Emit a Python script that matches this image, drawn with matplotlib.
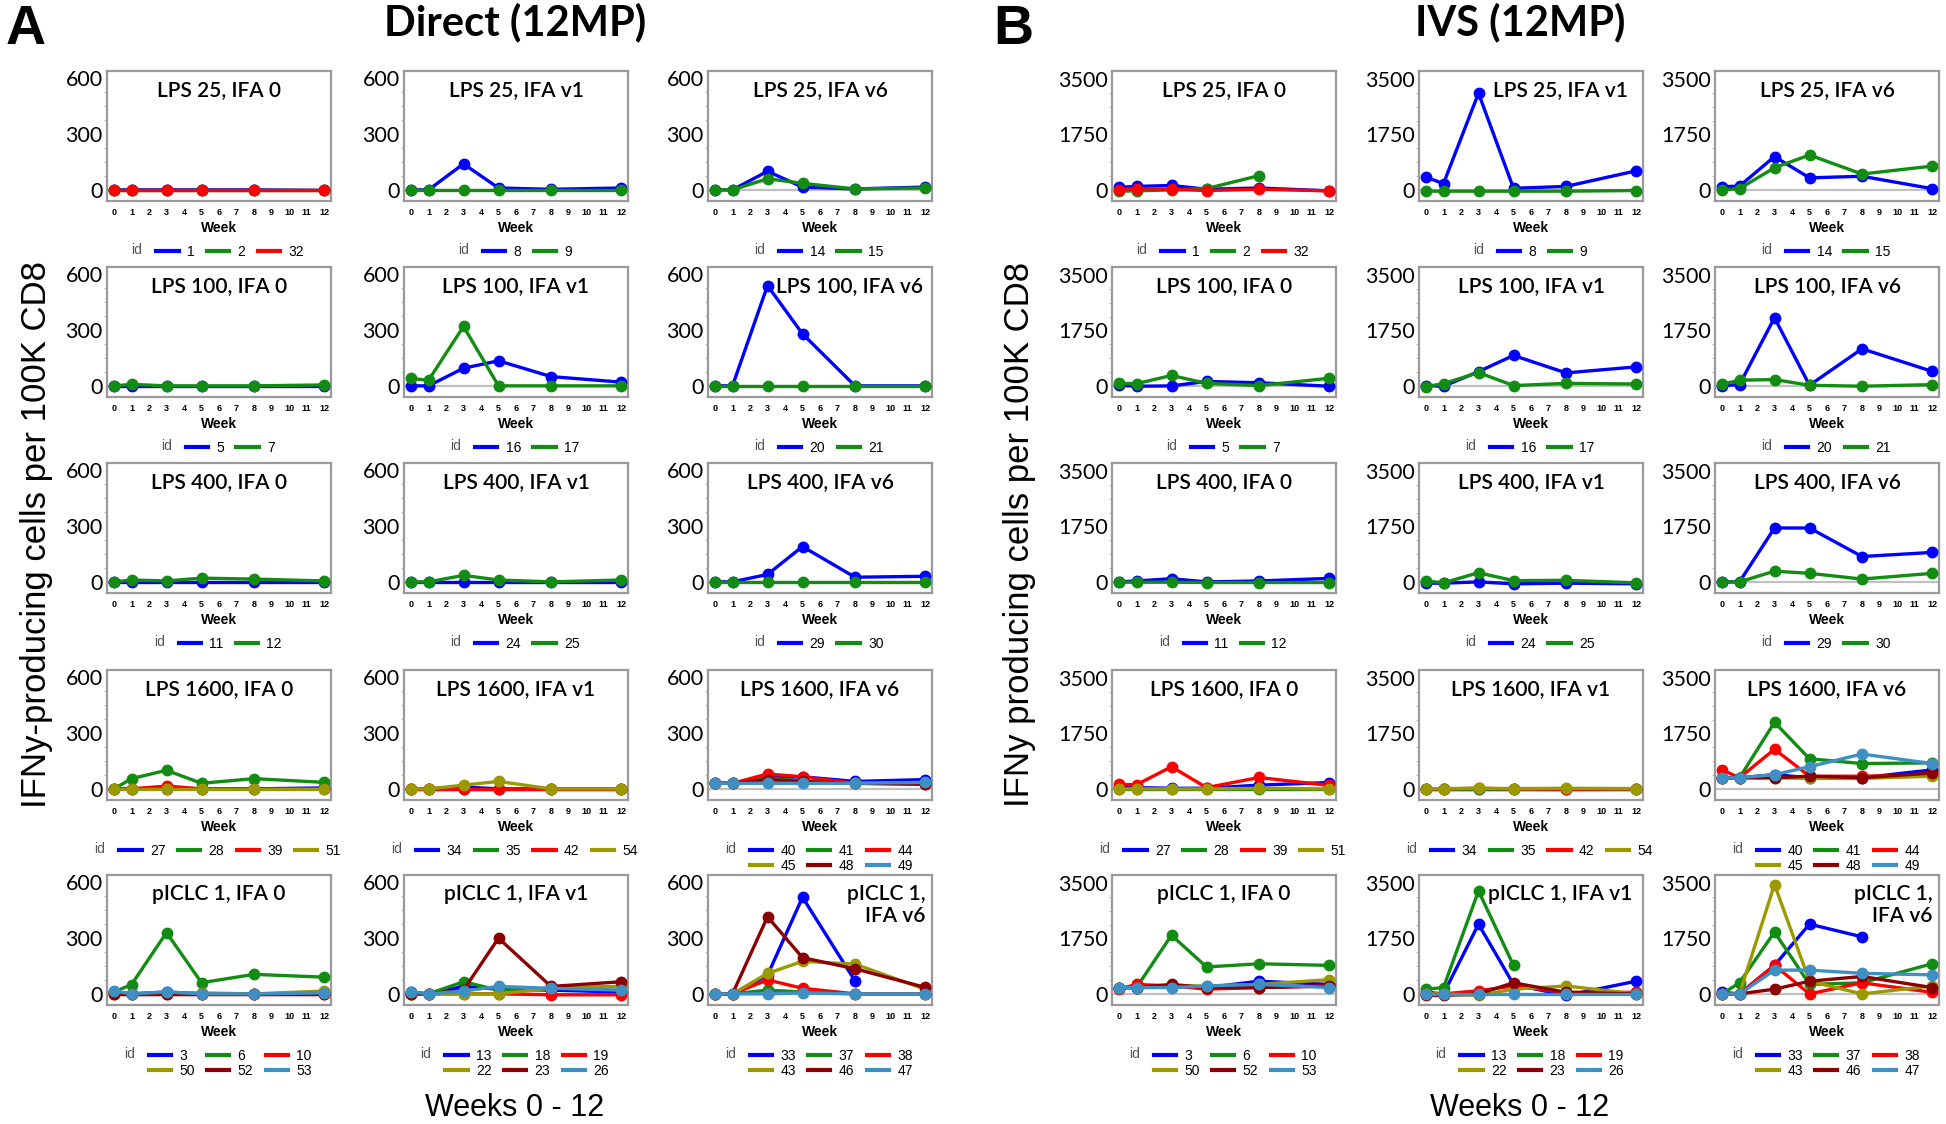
import numpy as np
import matplotlib.pyplot as plt
from matplotlib.lines import Line2D

nan = np.nan
weeks = [0, 1, 3, 5, 8, 12]

# ---- Direct (12MP): IFNy cells per 100K CD8, one list per animal id ----
direct_lps25_ifa0 = {1: [0, 0, 0, 0, 0, -3], 2: [0, 0, 0, 0, 0, 0], 32: [-3, -3, -3, -3, -3, -3]}
direct_lps25_ifav1 = {8: [0, 0, 140, 10, 3, 10], 9: [0, 0, 0, 0, 0, 0]}
direct_lps25_ifav6 = {14: [0, 0, 100, 15, 5, 15], 15: [0, 0, 60, 35, 5, 10]}
direct_lps100_ifa0 = {5: [0, 0, 0, 0, 0, 0], 7: [0, 8, 0, 0, 0, 5]}
direct_lps100_ifav1 = {16: [0, 0, 95, 135, 50, 20], 17: [40, 30, 320, 0, 0, 0]}
direct_lps100_ifav6 = {20: [0, 0, 540, 280, 0, 0], 21: [0, 0, 0, 0, 0, 0]}
direct_lps400_ifa0 = {11: [0, 0, 0, 0, 0, 0], 12: [0, 10, 5, 20, 15, 5]}
direct_lps400_ifav1 = {24: [0, 0, 0, 0, 0, 0], 25: [0, 0, 35, 10, 0, 10]}
direct_lps400_ifav6 = {29: [0, 0, 40, 190, 25, 30], 30: [0, 0, 0, 0, 0, 0]}
direct_lps1600_ifa0 = {27: [0, 0, 0, 0, 0, 5], 28: [0, 55, 100, 30, 55, 35],
                       39: [0, 0, 15, 0, 0, 0], 51: [0, 0, 0, 0, 0, 0]}
direct_lps1600_ifav1 = {34: [0, 0, 10, 0, 0, 0], 35: [0, 0, 0, 0, 0, 0],
                        42: [0, 0, 0, 0, 0, 0], 54: [0, 0, 20, 40, 0, 0]}
direct_lps1600_ifav6 = {40: [30, 30, 60, 65, 40, 50], 41: [30, 30, 60, 40, 30, 30],
                        44: [30, 30, 80, 65, 30, 25], 45: [30, 30, 40, 35, 30, 30],
                        48: [30, 30, 50, 40, 30, 25], 49: [30, 30, 30, 30, 30, 35]}
direct_piclc_ifa0 = {3: [10, 0, 10, 0, 0, 5], 6: [10, 50, 330, 60, 105, 90],
                     10: [0, 0, 0, 0, 0, 0], 50: [10, 0, 5, 5, 0, 15],
                     52: [0, 0, 0, 0, 0, 0], 53: [15, 0, 10, 0, 0, 5]}
direct_piclc_ifav1 = {13: [10, 0, 40, 25, 20, 10], 18: [0, 0, 65, 20, 30, 40],
                      19: [0, 0, 0, 0, -5, -5], 22: [0, 0, 0, 0, 30, 40],
                      23: [0, 0, 20, 300, 40, 65], 26: [10, 0, 15, 40, 30, 20]}
direct_piclc_ifav6 = {33: [0, 0, 100, 520, 70, nan], 37: [0, 0, 20, 10, 0, 0],
                      38: [0, 0, 75, 30, 0, 0], 43: [0, 0, 110, 175, 160, 25],
                      46: [0, 0, 415, 195, 135, 35], 47: [0, 0, 0, 5, 0, 0]}

# ---- IVS (12MP) ----
ivs_lps25_ifa0 = {1: [80, 110, 140, 20, 60, -30], 2: [-40, -30, 0, 40, 450, nan],
                  32: [10, 40, 20, -20, 20, -30]}
ivs_lps25_ifav1 = {8: [400, 200, 3050, 50, 110, 600], 9: [-40, -40, -40, -40, -40, -20]}
ivs_lps25_ifav6 = {14: [100, 120, 1050, 380, 430, 40], 15: [0, 40, 700, 1100, 500, 750]}
ivs_lps100_ifa0 = {5: [20, -10, 0, 140, 100, -10], 7: [80, 70, 330, 80, 10, 240]}
ivs_lps100_ifav1 = {16: [10, -10, 450, 960, 410, 600], 17: [-20, 70, 420, 10, 80, 60]}
ivs_lps100_ifav6 = {20: [10, 40, 2150, 20, 1170, 460], 21: [50, 180, 200, 20, -10, 40]}
ivs_lps400_ifa0 = {11: [0, 30, 100, 0, 30, 110], 12: [-10, -10, -10, -20, -20, -20]}
ivs_lps400_ifav1 = {24: [-40, -40, 0, -60, -40, -60], 25: [30, -30, 290, 40, 50, -30]}
ivs_lps400_ifav6 = {29: [0, 0, 1700, 1700, 800, 930], 30: [0, 0, 340, 270, 90, 270]}
ivs_lps1600_ifa0 = {27: [60, 40, 20, 20, 120, 200], 28: [0, 0, 0, 0, 0, 0],
                    39: [140, 130, 700, 40, 360, 110], 51: [0, 0, 0, 0, 20, 0]}
ivs_lps1600_ifav1 = {34: [0, 0, 0, 0, 0, 0], 35: [10, 10, 10, 10, 10, 10],
                     42: [0, 0, 20, 0, -10, 0], 54: [10, 10, 20, 10, 20, 10]}
ivs_lps1600_ifav6 = {40: [350, 350, 450, 350, 350, 600], 41: [350, 350, 2100, 950, 800, 820],
                     44: [600, 350, 1250, 400, 400, 450], 45: [350, 350, 350, 330, 330, 400],
                     48: [350, 350, 350, 400, 350, 500], 49: [350, 350, 450, 700, 1100, 800]}
ivs_piclc_ifa0 = {3: [200, 200, 250, 200, 400, 300], 6: [200, 200, 1850, 850, 950, 900],
                  10: [150, 300, 250, 150, 200, 250], 50: [200, 200, 250, 250, 300, 450],
                  52: [200, 200, 300, 200, 200, 250], 53: [200, 200, 200, 250, 300, 200]}
ivs_piclc_ifav1 = {13: [50, 0, 2200, 300, -50, 400], 18: [150, 200, 3250, 900, nan, nan],
                   19: [0, 0, 100, 250, 50, 50], 22: [0, 0, -50, 150, 250, 0],
                   23: [-50, -50, 0, 350, 50, 0], 26: [0, 0, 0, 0, 0, 0]}
ivs_piclc_ifav6 = {33: [50, 0, 900, 2200, 1800, nan], 37: [0, 350, 1950, 300, 350, 950],
                   38: [0, 0, 900, 0, 350, 50], 43: [0, 0, 3450, 400, 0, 250],
                   46: [0, 0, 150, 400, 550, 200], 47: [0, 0, 750, 750, 650, 600]}

direct_panels = [
    [direct_lps25_ifa0, direct_lps25_ifav1, direct_lps25_ifav6],
    [direct_lps100_ifa0, direct_lps100_ifav1, direct_lps100_ifav6],
    [direct_lps400_ifa0, direct_lps400_ifav1, direct_lps400_ifav6],
    [direct_lps1600_ifa0, direct_lps1600_ifav1, direct_lps1600_ifav6],
    [direct_piclc_ifa0, direct_piclc_ifav1, direct_piclc_ifav6],
]
ivs_panels = [
    [ivs_lps25_ifa0, ivs_lps25_ifav1, ivs_lps25_ifav6],
    [ivs_lps100_ifa0, ivs_lps100_ifav1, ivs_lps100_ifav6],
    [ivs_lps400_ifa0, ivs_lps400_ifav1, ivs_lps400_ifav6],
    [ivs_lps1600_ifa0, ivs_lps1600_ifav1, ivs_lps1600_ifav6],
    [ivs_piclc_ifa0, ivs_piclc_ifav1, ivs_piclc_ifav6],
]
row_names = ['LPS 25', 'LPS 100', 'LPS 400', 'LPS 1600', 'pICLC 1']
col_names = ['IFA 0', 'IFA v1', 'IFA v6']
colors = ['#0000ff', '#128c12', '#ff0000', '#9a9a00', '#8b0000', '#3d8fc4']

# ---- layout (pixels of the 1946x1124 figure) ----
W, H = 1946, 1124
ax_w, ax_h = 224, 130
row_top = [71, 267, 463, 670, 875]
cols_a = [107, 404, 708]
cols_b = [1112, 1419, 1715]

narrow = ['Liberation Sans Narrow', 'Liberation Sans', 'DejaVu Sans']
fig = plt.figure(figsize=(W / 100, H / 100), dpi=100)


def draw_panel(ax, data, title, ylim, yticks, title_x=0.5, title_ha='center'):
    ax.axhline(0, color='#c0c0c0', lw=1.6, zorder=1)
    for i, (pid, vals) in enumerate(data.items()):
        ax.plot(weeks, vals, color=colors[i], lw=2.4, marker='o', ms=7.5,
                solid_capstyle='round', zorder=3)
    ax.set_xlim(-0.4, 12.4)
    ax.set_ylim(*ylim)
    ax.set_xticks(range(13))
    ax.set_xticklabels([str(i) for i in range(13)], fontsize=6.5,
                       fontweight='bold', family=narrow)
    ax.set_yticks(yticks)
    ax.set_yticklabels([str(t) for t in yticks], fontsize=15.5, family='Lato')
    ax.set_yticks(np.linspace(yticks[0], yticks[-1], 9), minor=True)
    ax.tick_params(axis='x', length=0, pad=5)
    ax.tick_params(axis='y', which='major', length=0, pad=3)
    ax.tick_params(axis='y', which='minor', length=2, color='#aaaaaa')
    ax.set_xlabel('Week', fontsize=10, fontweight='bold', family=narrow, labelpad=3)
    for s in ax.spines.values():
        s.set_color('#9a9a9a')
        s.set_linewidth(1.6)
    ax.text(title_x, 0.93, title, transform=ax.transAxes, ha=title_ha, va='top',
            fontsize=15, family='Lato', fontweight='semibold', linespacing=1.1)
    # legend below the axes, "id" to its left; rows filled left to right
    ids = list(data.keys())
    handles = [Line2D([], [], color=colors[i], lw=3) for i in range(len(ids))]
    labels = [str(p) for p in ids]
    if len(ids) == 6:
        order = [0, 3, 1, 4, 2, 5]
        handles = [handles[k] for k in order]
        labels = [labels[k] for k in order]
        ncol = 3
    else:
        ncol = len(ids)
    leg = ax.legend(handles, labels, ncol=ncol, loc='upper center',
                    bbox_to_anchor=(0.55, -0.26), frameon=False, handlelength=1.6,
                    handletextpad=0.6, columnspacing=0.9, labelspacing=0.1,
                    borderpad=0.2, prop={'family': narrow, 'size': 10})
    ax.annotate('id', xy=(0, 1), xycoords=leg, xytext=(-8, -1),
                textcoords='offset points', ha='right', va='top',
                fontsize=10, color='#555555', family=narrow)


for panels, cols, ylim, yticks in [
        (direct_panels, cols_a, (-60, 640), [0, 300, 600]),
        (ivs_panels, cols_b, (-350, 3750), [0, 1750, 3500])]:
    for r in range(5):
        for c in range(3):
            left = cols[c] / W
            bottom = 1 - (row_top[r] + ax_h) / H
            ax = fig.add_axes([left, bottom, ax_w / W, ax_h / H])
            title = row_names[r] + ', ' + col_names[c]
            tx, ha = 0.5, 'center'
            if r == 4 and c == 2:
                title = 'pICLC 1,\nIFA v6'
                tx, ha = 0.97, 'right'
            elif (panels is direct_panels and r == 1 and c == 2) or \
                    (panels is ivs_panels and c == 1 and r in (0, 4)):
                tx = 0.63
            draw_panel(ax, panels[r][c], title, ylim, yticks, tx, ha)

# figure-level labels
fig.text(6 / W, 1 - 4 / H, 'A', fontsize=40, fontweight='bold', family='Liberation Sans',
         ha='left', va='top')
fig.text(993 / W, 1 - 4 / H, 'B', fontsize=40, fontweight='bold', family='Liberation Sans',
         ha='left', va='top')
fig.text(515 / W, 1 - 22 / H, 'Direct (12MP)', fontsize=30, fontweight='bold',
         family='Lato', ha='center', va='center')
fig.text(1520 / W, 1 - 22 / H, 'IVS (12MP)', fontsize=30, fontweight='bold',
         family='Lato', ha='center', va='center')
fig.text(37 / W, 1 - 534 / H, 'IFNy-producing cells per 100K CD8', fontsize=25,
         family='Liberation Sans', rotation=90, ha='center', va='center')
fig.text(1020 / W, 1 - 534 / H, 'IFNy producing cells per 100K CD8', fontsize=25,
         family='Liberation Sans', rotation=90, ha='center', va='center')
fig.text(515 / W, 1 - 1108 / H, 'Weeks 0 - 12', fontsize=22, family='Liberation Sans',
         ha='center', va='center')
fig.text(1520 / W, 1 - 1108 / H, 'Weeks 0 - 12', fontsize=22, family='Liberation Sans',
         ha='center', va='center')

fig.savefig('out.png', dpi=100, facecolor='white')
